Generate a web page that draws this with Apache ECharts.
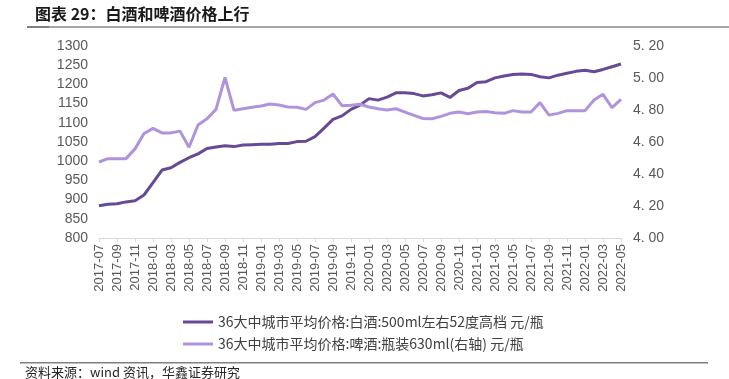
<!DOCTYPE html>
<html><head><meta charset="utf-8">
<script src="https://cdn.jsdelivr.net/npm/echarts@6/dist/echarts.min.js"></script>
<style>html,body{margin:0;padding:0;background:#fff}#c{width:729px;height:379px}</style>
</head><body><div id="c"></div>
<script>
const categories = [
"2017-07","2017-08","2017-09","2017-10","2017-11","2017-12",
"2018-01","2018-02","2018-03","2018-04","2018-05","2018-06","2018-07","2018-08","2018-09","2018-10","2018-11","2018-12",
"2019-01","2019-02","2019-03","2019-04","2019-05","2019-06","2019-07","2019-08","2019-09","2019-10","2019-11","2019-12",
"2020-01","2020-02","2020-03","2020-04","2020-05","2020-06","2020-07","2020-08","2020-09","2020-10","2020-11","2020-12",
"2021-01","2021-02","2021-03","2021-04","2021-05","2021-06","2021-07","2021-08","2021-09","2021-10","2021-11","2021-12",
"2022-01","2022-02","2022-03","2022-04","2022-05"];
const baijiu = [884,888,889,894,897,912,944,977,983,997,1009,1019,1033,1037,1040,1038,1042,1043,1044,1044,
1046,1046,1051,1052,1064,1086,1109,1118,1135,1146,1163,1159,1167,1178,1178,1176,1170,1173,1178,1166,
1184,1190,1205,1207,1217,1222,1226,1227,1226,1220,1217,1224,1229,1234,1237,1233,1239,1246,1253];
const beer = [4.475,4.496,4.496,4.496,4.557,4.653,4.685,4.657,4.657,4.668,4.567,4.706,4.745,4.804,5.003,4.798,4.808,4.817,4.825,4.838,
4.831,4.819,4.817,4.804,4.846,4.862,4.900,4.827,4.829,4.836,4.819,4.808,4.800,4.808,4.787,4.766,4.747,4.745,4.760,4.779,
4.787,4.777,4.788,4.791,4.783,4.779,4.796,4.787,4.787,4.846,4.768,4.779,4.796,4.796,4.796,4.862,4.898,4.815,4.867];
const seriesNames = ["36大中城市平均价格:白酒:500ml左右52度高档 元/瓶","36大中城市平均价格:啤酒:瓶装630ml(右轴) 元/瓶"];
const titleText = "图表 29：白酒和啤酒价格上行";
const sourceText = "资料来源：wind 资讯，华鑫证券研究";

const cjk = '"Noto Sans CJK SC", sans-serif';
const latin = '"Liberation Sans", Arial, sans-serif';
const chart = echarts.init(document.getElementById('c'));
chart.setOption({
  animation:false,
  backgroundColor:'#fff',
  grid:{left:99,right:108,top:46,bottom:141,containLabel:false},
  legend:{orient:'vertical',left:178,top:310,itemWidth:30,itemHeight:3,itemGap:8,icon:'rect',
    textStyle:{fontSize:14,color:'#404040',fontFamily:cjk},
    data:seriesNames},
  xAxis:{type:'category',data:categories,boundaryGap:false,
    axisLine:{lineStyle:{color:'#D9D9D9'}},
    axisTick:{interval:1,length:4,lineStyle:{color:'#D9D9D9'}},
    axisLabel:{interval:1,rotate:90,fontSize:13,color:'#595959',margin:6,fontFamily:latin}},
  yAxis:[
    {type:'value',min:800,max:1300,interval:50,splitLine:{show:false},axisLine:{show:false},axisTick:{show:false},
     axisLabel:{fontSize:14,color:'#595959',margin:11,fontFamily:latin,formatter:v=>String(v)}},
    {type:'value',min:4.0,max:5.2,interval:0.2,splitLine:{show:false},axisLine:{show:false},axisTick:{show:false},
     axisLabel:{fontSize:14,color:'#595959',margin:12,fontFamily:latin,
       formatter:v=>v.toFixed(2).replace('.', '. ')}}
  ],
  series:[
    {name:seriesNames[0],type:'line',data:baijiu,yAxisIndex:0,symbol:'none',
     lineStyle:{width:3,color:'#674A95'},itemStyle:{color:'#674A95'}},
    {name:seriesNames[1],type:'line',data:beer,yAxisIndex:1,symbol:'none',
     lineStyle:{width:3,color:'#AF94DD'},itemStyle:{color:'#AF94DD'}}
  ],
  graphic:[
    {type:'text',left:35,top:6,style:{text:titleText,font:'bold 16px '+cjk,fill:'#1a1a1a'}},
    {type:'rect',shape:{x:27,y:26,width:702,height:2},style:{fill:'#A6A6A6'}},
    {type:'rect',shape:{x:27,y:26,width:22,height:2},style:{fill:'#7F7F7F'}},
    {type:'rect',shape:{x:20,y:362,width:688,height:1.5},style:{fill:'#808080'}},
    {type:'text',left:25,top:366,style:{text:sourceText,font:'13px '+cjk,fill:'#262626'}}
  ]
});
</script></body></html>
